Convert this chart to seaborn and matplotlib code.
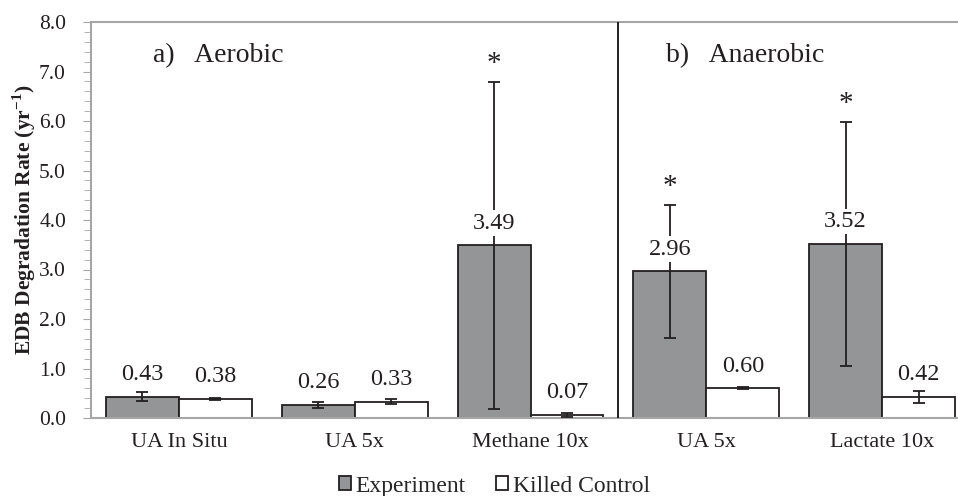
import matplotlib.pyplot as plt
import seaborn as sns
import pandas as pd
import numpy as np
from matplotlib.patches import Patch
from matplotlib.ticker import MultipleLocator

# Données
group_keys = ['aer_insitu', 'aer_5x', 'aer_methane', 'ana_5x', 'ana_lactate']
group_labels = ['UA In Situ', 'UA 5x', 'Methane 10x', 'UA 5x', 'Lactate 10x']
experiment = [0.43, 0.26, 3.49, 2.96, 3.52]
experiment_err = [0.09, 0.06, 3.30, 1.34, 2.46]
killed = [0.38, 0.33, 0.07, 0.60, 0.42]
killed_err = [0.02, 0.05, 0.04, 0.02, 0.12]
significant = [False, False, True, True, True]
series_names = ['Experiment', 'Killed Control']

df = pd.DataFrame({
    'groupe': group_keys * 2,
    'taux': experiment + killed,
    'erreur': experiment_err + killed_err,
    'serie': [series_names[0]] * 5 + [series_names[1]] * 5,
})

sns.set_style('white')
plt.rcParams['font.family'] = ['Liberation Serif', 'DejaVu Serif']
plt.rcParams['mathtext.fontset'] = 'custom'
plt.rcParams['mathtext.rm'] = 'Liberation Serif'
plt.rcParams['mathtext.bf'] = 'Liberation Serif:bold'

gris = '#939598'
bord = '#231f20'
axe = '#a6a6a6'

fig = plt.figure(figsize=(9.58, 4.96), dpi=100)
ax = fig.add_axes([91 / 958, 78 / 496, 879 / 958, 396 / 496])

sns.barplot(data=df, x='groupe', y='taux', hue='serie', order=group_keys,
            hue_order=series_names, palette=[gris, 'white'], edgecolor=bord,
            linewidth=1.3, width=0.83, gap=0, legend=False, ax=ax)

# Barres d'erreur et étiquettes
for cont, vals, errs in zip(ax.containers, [experiment, killed], [experiment_err, killed_err]):
    xs = [p.get_x() + p.get_width() / 2 for p in cont.patches]
    ax.errorbar(xs, vals, yerr=errs, fmt='none', ecolor=bord, elinewidth=1.3,
                capsize=4, capthick=1.3, zorder=3)
    for x, v in zip(xs, vals):
        ax.annotate(f'{v:.2f}', (x, v), xytext=(0, 16), textcoords='offset points',
                    ha='center', va='center', fontsize=17.5, color=bord, zorder=4,
                    bbox=dict(boxstyle='square,pad=0.1', fc='white', ec='none'))

# Astérisques de significativité
for cont_patch, v, e, s in zip(ax.containers[0].patches, experiment, experiment_err, significant):
    if s:
        x = cont_patch.get_x() + cont_patch.get_width() / 2
        ax.text(x, v + e + 0.36, '*', ha='center', va='center', fontsize=21, color=bord)

# Séparateur aérobie / anaérobie
ax.axvline(2.5, color=bord, linewidth=1.4, zorder=5)

ax.text(-0.148, 7.33, 'a)   Aerobic', fontsize=20, ha='left', va='center', color=bord)
ax.text(2.77, 7.33, 'b)   Anaerobic', fontsize=20, ha='left', va='center', color=bord)

ax.set_xlim(-0.5, 4.5)
ax.set_ylim(0, 8)
ax.yaxis.set_major_locator(MultipleLocator(1.0))
ax.yaxis.set_minor_locator(MultipleLocator(0.2))
ax.set_yticklabels([f'{t:.1f}' for t in ax.get_yticks()])
ax.tick_params(axis='y', which='major', direction='out', length=6, color=axe,
               labelsize=15.5, labelcolor=bord, left=True, pad=12)
ax.tick_params(axis='y', which='minor', direction='out', length=5, color=axe, left=True)
ax.set_xticks(range(len(group_labels)))
ax.set_xticklabels(group_labels, fontsize=16, color=bord)
ax.tick_params(axis='x', length=0, pad=11)

ax.set_xlabel('')
ax.set_ylabel('EDB Degradation Rate (yr$^{\\mathbf{-1}}$)', fontsize=15.5,
              fontweight='bold', color=bord, labelpad=1)

for side in ['left', 'bottom', 'top']:
    ax.spines[side].set_color(axe)
    ax.spines[side].set_linewidth(1.5)
ax.spines['right'].set_visible(False)

handles = [Patch(facecolor=gris, edgecolor=bord, linewidth=1.3),
           Patch(facecolor='white', edgecolor=bord, linewidth=1.3)]
fig.legend(handles, series_names, loc='center', bbox_to_anchor=(0.516, 0.02),
           ncol=2, frameon=False, fontsize=17, handlelength=0.5, handleheight=0.5,
           handletextpad=0.2, columnspacing=1.3)

plt.savefig('out.png', dpi=100)
plt.close()
